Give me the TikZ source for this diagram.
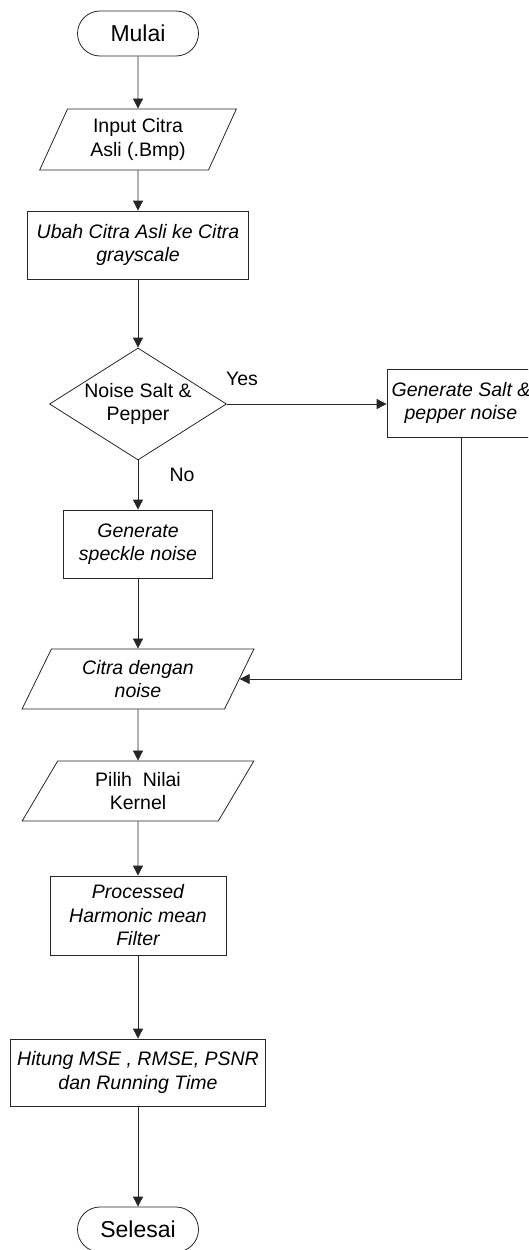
\documentclass[tikz,border=0pt]{standalone}
\usepackage{fontspec}
\setmainfont{Liberation Sans}
\usetikzlibrary{shapes.geometric,shapes.misc,arrows.meta,positioning}
\begin{document}
\begin{tikzpicture}[x=1pt,y=-1pt,
  every node/.style={font=\fontsize{19.5}{23.5}\selectfont, align=center, inner sep=0pt, line width=0.8pt, draw=black!85},
  term/.style={rounded rectangle, minimum width=121pt, minimum height=45pt, font=\fontsize{23}{27}\selectfont},
  proc/.style={rectangle, font=\fontsize{19.5}{23.5}\selectfont\itshape},
  io/.style={trapezium, trapezium left angle=#1, trapezium right angle=180-#1, trapezium stretches=true},
  dec/.style={diamond, aspect=1.58, minimum width=177pt, minimum height=112pt},
  lbl/.style={draw=none},
  conn/.style={line width=0.8pt, draw=black!85, -{Triangle[length=10pt,width=10pt]}}
]
\useasboundingbox (0,0) rectangle (528,1250);
\clip (0,0) rectangle (528,1250);

\node[term] (mulai) at (138,33.5) {Mulai};
\node[io=65.7, minimum width=197pt, minimum height=61pt] (input) at (138,139.5) {Input Citra\\Asli (.Bmp)};
\node[proc, minimum width=221pt, minimum height=68pt] (ubah) at (138,245) {Ubah Citra Asli ke Citra\\grayscale};
\node[dec] (noise) at (138,404) {Noise Salt \&\\Pepper};
\node[proc, minimum width=148pt, minimum height=68pt] (salt) at (461,403) {Generate Salt \&\\pepper noise};
\node[proc, minimum width=149pt, minimum height=68pt] (speckle) at (138,544) {Generate\\speckle noise};
\node[io=63.4, minimum width=232pt, minimum height=60pt, font=\fontsize{19.5}{23.5}\selectfont\itshape] (citra) at (138,679) {Citra dengan\\noise};
\node[io=63.4, minimum width=232pt, minimum height=60pt] (pilih) at (138,791) {Pilih\ \ Nilai\\Kernel};
\node[proc, minimum width=176pt, minimum height=79pt] (harm) at (138,915.5) {Processed\\Harmonic mean\\Filter};
\node[proc, minimum width=255pt, minimum height=67pt] (hitung) at (138,1072.5) {Hitung MSE , RMSE, PSNR\\dan Running Time};
\node[term] (selesai) at (138,1229.5) {Selesai};

\node[lbl] (yes) at (242,379) {Yes};
\node[lbl] (no) at (182,475) {No};

\draw[conn] (mulai) -- (input);
\draw[conn] (input) -- (ubah);
\draw[conn] (ubah) -- (noise);
\draw[conn] (noise.east) -- (noise.east -| salt.west);
\draw[conn] (noise) -- (speckle);
\draw[conn] (speckle) -- (citra);
\draw[conn] (salt.south) |- (citra.east);
\draw[conn] (citra) -- (pilih);
\draw[conn] (pilih) -- (harm);
\draw[conn] (harm) -- (hitung);
\draw[conn] (hitung) -- (selesai);
\end{tikzpicture}
\end{document}
